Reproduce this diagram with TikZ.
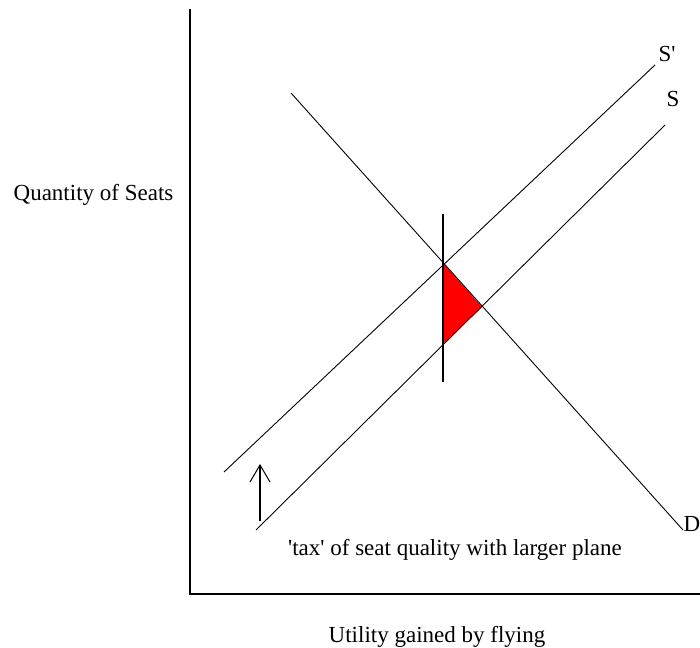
\documentclass[tikz,border=0pt]{standalone}
\usepackage{fontspec}
\setmainfont{Liberation Serif}
\usetikzlibrary{arrows.meta}
\begin{document}
\begin{tikzpicture}[x=1pt,y=-1pt,
  axis/.style={line width=1.6pt,line cap=rect},
  curve/.style={line width=0.9pt},
  lbl/.style={font=\fontsize{23}{27}\selectfont,anchor=base,inner sep=0pt}]
\useasboundingbox (0,0) rectangle (700,647);
% axes
\coordinate (ytop) at (190,10);
\coordinate (orig) at (190,594);
\coordinate (xend) at (700,594);
\draw[axis] (ytop) -- (orig) -- (xend);
% curves
\coordinate (sp1) at (224,472);
\coordinate (sp2) at (655,65);
\coordinate (s1) at (256,530);
\coordinate (s2) at (665,125);
\coordinate (d1) at (291,93);
\coordinate (d2) at (683,530);
\coordinate (v1) at (443,214);
\coordinate (v2) at (443,382);
\coordinate (ta) at (443,263);
\coordinate (tb) at (482,307);
\coordinate (tc) at (443,344);
\fill[red] (ta) -- (tb) -- (tc) -- cycle;
\draw[curve] (sp1) -- (sp2);
\draw[curve] (s1) -- (s2);
\draw[curve] (d1) -- (d2);
\draw[line width=1.4pt] (v1) -- (v2);
% arrow
\coordinate (a1) at (260,521);
\coordinate (a2) at (260,464);
\draw[line width=1.2pt,-{Straight Barb[length=17pt,width=20pt,line width=1pt]}] (a1) -- (a2);
% labels
\node[lbl] (lsp) at (667,62) {S\textquotesingle};
\node[lbl] (ls) at (673,107) {S};
\node[lbl] (ld) at (692,531) {D};
\node[lbl] (ly) at (93.5,200) {Quantity of Seats};
\node[lbl] (lx) at (437,642) {Utility gained by flying};
\node[lbl] (lt) at (455,555) {\textquotesingle tax\textquotesingle{} of seat quality with larger plane};
\end{tikzpicture}
\end{document}
